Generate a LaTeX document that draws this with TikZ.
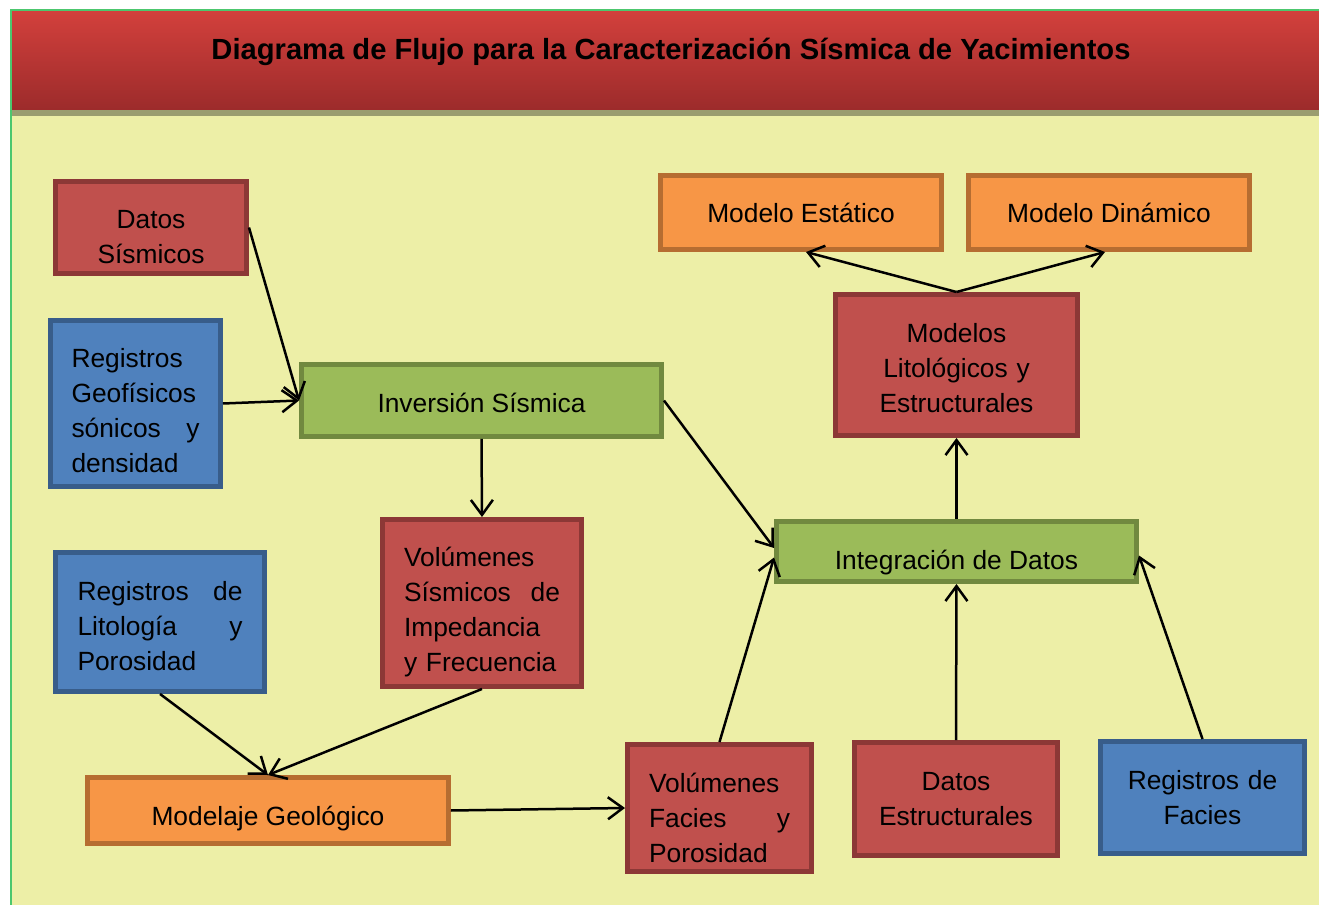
\documentclass[tikz,border=0pt]{standalone}
\usepackage{fontspec}
\setmainfont{Liberation Sans}
\usetikzlibrary{arrows.meta}
\definecolor{rojo}{HTML}{C0504D}
\definecolor{rojoborde}{HTML}{8C3836}
\definecolor{azul}{HTML}{4F81BD}
\definecolor{azulborde}{HTML}{385D8A}
\definecolor{verde}{HTML}{9BBB59}
\definecolor{verdeborde}{HTML}{71893F}
\definecolor{naranja}{HTML}{F79646}
\definecolor{naranjaborde}{HTML}{B66D31}
\definecolor{fondo}{HTML}{EDEFA7}
\definecolor{sombra}{HTML}{9A9D70}
\definecolor{tituloarriba}{HTML}{D2403C}
\definecolor{tituloabajo}{HTML}{9C2B2B}
\definecolor{lineaverde}{HTML}{4CC76E}

\begin{document}
\begin{tikzpicture}[x=0.02cm, y=-0.02cm, >={Straight Barb[length=0.3cm,width=0.44cm]},
  caja/.style={draw, line width=0.09cm, inner sep=0pt, align=center, font=\fontsize{15}{20}\selectfont},
  cajaroja/.style={caja, fill=rojo, draw=rojoborde},
  cajaazul/.style={caja, fill=azul, draw=azulborde},
  cajaverde/.style={caja, fill=verde, draw=verdeborde},
  cajanaranja/.style={caja, fill=naranja, draw=naranjaborde},
  texto/.style 2 args={text height=#1cm, text depth=#2cm},
  flecha/.style={->, line width=0.05cm}]
  \useasboundingbox (0,0) rectangle (1319,905);
  % fondo y barra de titulo
  \fill[fondo] (12,112) rectangle (1319,905);
  \fill[sombra] (12,108) rectangle (1319,116);
  \shade[top color=tituloarriba, bottom color=tituloabajo] (12,12) rectangle (1319,110);
  \draw[lineaverde, line width=0.03cm] (11,905) -- (11,10) -- (1319,10);
  \node[font=\fontsize{16.6}{20}\selectfont\bfseries] (titulo) at (671,52) {Diagrama de Flujo para la Caracterización Sísmica de Yacimientos};

  % cajas
  \node[cajaroja, minimum width=3.83cm, minimum height=1.85cm, text width=3.5cm, texto={0.04}{0}] (datos) at (151,227.5) {Datos\\Sísmicos};
  \node[cajaazul, minimum width=3.41cm, minimum height=3.33cm, text width=2.56cm, align=left, texto={0}{1.44}] (geof) at (135.5,403.5) {Registros\\Geofísicos\\sónicos\hfill y\\densidad};
  \node[cajaverde, minimum width=7.21cm, minimum height=1.45cm, texto={0.48}{0}] (inversion) at (481.5,400.5) {Inversión Sísmica};
  \node[cajaazul, minimum width=4.19cm, minimum height=2.79cm, text width=3.3cm, align=left, texto={0}{0.86}] (litol) at (160,622) {Registros\hfill de\\Litología\hfill y\\Porosidad};
  \node[cajaroja, minimum width=3.99cm, minimum height=3.35cm, text width=3.12cm, align=left, texto={0}{1.46}] (volsis) at (482,603) {Volúmenes\\Sísmicos\hfill de\\Impedancia\\y Frecuencia};
  \node[cajanaranja, minimum width=7.23cm, minimum height=1.33cm, texto={0.58}{0}] (modelaje) at (268,810.5) {Modelaje Geológico};
  \node[cajaroja, minimum width=3.69cm, minimum height=2.55cm, text width=2.82cm, align=left, texto={0}{0.62}] (volfac) at (719.5,808) {Volúmenes\\Facies\hfill y\\Porosidad};
  \node[cajaroja, minimum width=4.07cm, minimum height=2.27cm, text width=3.8cm, texto={0}{0.34}] (datest) at (956,799) {Datos\\Estructurales};
  \node[cajaazul, minimum width=4.09cm, minimum height=2.25cm, text width=3.8cm, texto={0}{0.34}] (regfac) at (1202.5,797.5) {Registros de\\Facies};
  \node[cajaverde, minimum width=7.21cm, minimum height=1.21cm, texto={0.74}{0}] (integ) at (956.5,551.5) {Integración de Datos};
  \node[cajaroja, minimum width=4.85cm, minimum height=2.83cm, text width=4.5cm, texto={0}{0.9}] (modlit) at (956.5,365) {Modelos\\Litológicos y\\Estructurales};
  \node[cajanaranja, minimum width=5.63cm, minimum height=1.49cm, texto={0.42}{0}] (estat) at (801,212.5) {Modelo Estático};
  \node[cajanaranja, minimum width=5.63cm, minimum height=1.49cm, texto={0.42}{0}] (dinam) at (1109,212.5) {Modelo Dinámico};

  % flechas
  \draw[flecha] (datos.east) -- (inversion.west);
  \draw[flecha] (geof.east) -- (inversion.west);
  \draw[flecha] (inversion.south) -- (volsis.north);
  \draw[flecha] (inversion.east) -- ([yshift=0.07cm]integ.west);
  \draw[flecha] (litol.south) -- (modelaje.north);
  \draw[flecha] (volsis.south) -- (modelaje.north);
  \draw[flecha] (modelaje.east) -- (volfac.west);
  \draw[flecha] (volfac.north) -- ([yshift=-0.12cm]integ.west);
  \draw[flecha] (datest.north) -- (integ.south);
  \draw[flecha] (regfac.north) -- ([yshift=-0.08cm]integ.east);
  \draw[flecha] (integ.north) -- (modlit.south);
  \draw[flecha] (modlit.north) -- ([xshift=0.1cm]estat.south);
  \draw[flecha] (modlit.north) -- ([xshift=-0.08cm]dinam.south);
\end{tikzpicture}
\end{document}
